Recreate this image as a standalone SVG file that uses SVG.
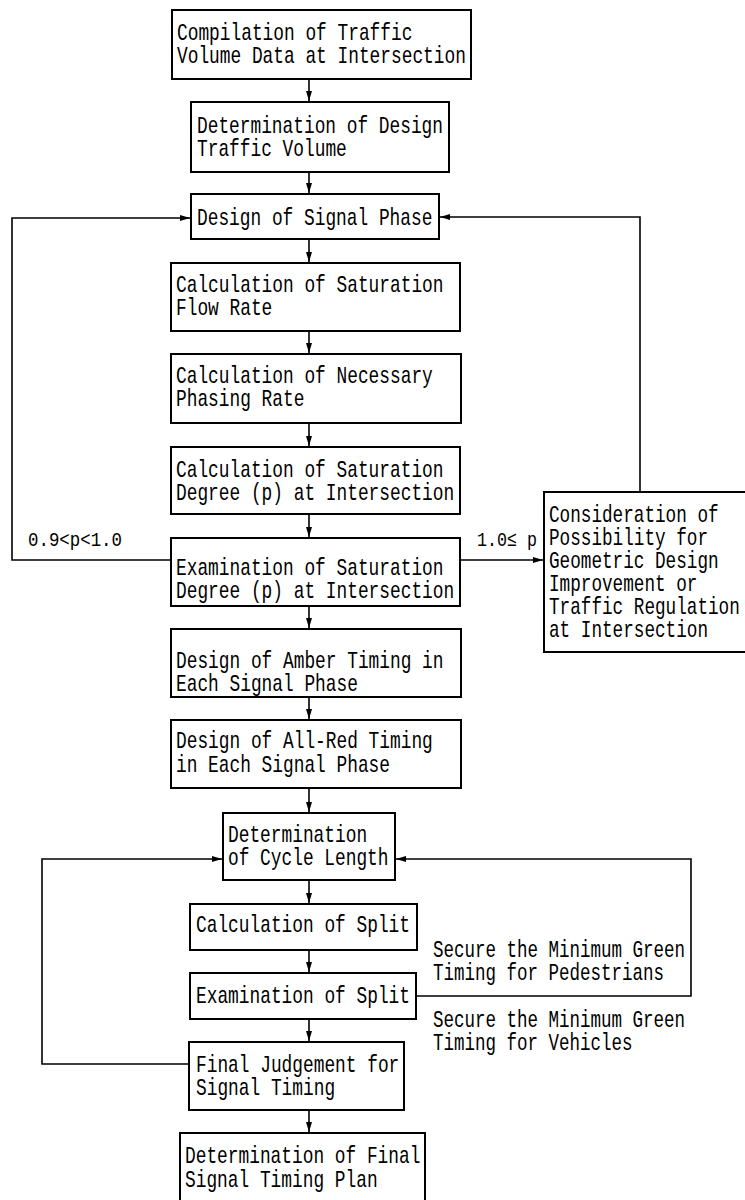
<svg xmlns="http://www.w3.org/2000/svg" width="745" height="1200" viewBox="0 0 745 1200">
<style>
.box{fill:#fff;stroke:#000;stroke-width:2}
.t{font-family:"Liberation Mono","DejaVu Sans Mono",monospace;font-size:24px;fill:#000}
.s{font-family:"Liberation Mono","DejaVu Sans Mono",monospace;font-size:21px;fill:#000}
.c{fill:none;stroke:#000;stroke-width:1.6}
</style>
<defs>
<marker id="ah" viewBox="0 0 10 6" markerWidth="10" markerHeight="6" refX="10" refY="3" orient="auto" markerUnits="userSpaceOnUse">
<path d="M0,0 L10,3 L0,6 z" fill="#000"/>
</marker>
</defs>
<rect width="745" height="1200" fill="#fff"/>
<g id="connectors">
<line class="c" x1="309" y1="80" x2="309" y2="101" marker-end="url(#ah)"/>
<line class="c" x1="309" y1="173" x2="309" y2="193" marker-end="url(#ah)"/>
<line class="c" x1="309" y1="240" x2="309" y2="262" marker-end="url(#ah)"/>
<line class="c" x1="309" y1="332" x2="309" y2="353" marker-end="url(#ah)"/>
<line class="c" x1="309" y1="424" x2="309" y2="446" marker-end="url(#ah)"/>
<line class="c" x1="309" y1="515" x2="309" y2="537" marker-end="url(#ah)"/>
<line class="c" x1="309" y1="607" x2="309" y2="628" marker-end="url(#ah)"/>
<line class="c" x1="309" y1="698" x2="309" y2="719" marker-end="url(#ah)"/>
<line class="c" x1="309" y1="789" x2="309" y2="812" marker-end="url(#ah)"/>
<line class="c" x1="309" y1="881" x2="309" y2="903" marker-end="url(#ah)"/>
<line class="c" x1="309" y1="951" x2="309" y2="972" marker-end="url(#ah)"/>
<line class="c" x1="309" y1="1020" x2="309" y2="1041" marker-end="url(#ah)"/>
<line class="c" x1="309" y1="1111" x2="309" y2="1132" marker-end="url(#ah)"/>
<path class="c" d="M170,560 H12 V218 H190" marker-end="url(#ah)"/>
<path class="c" d="M461,560 H543" marker-end="url(#ah)"/>
<path class="c" d="M640,491 V217 H440" marker-end="url(#ah)"/>
<path class="c" d="M188,1064 H42 V859 H222" marker-end="url(#ah)"/>
<path class="c" d="M417,996 H691 V859 H396" marker-end="url(#ah)"/>
<text class="s" x="28" y="546" textLength="94" lengthAdjust="spacingAndGlyphs">0.9&lt;p&lt;1.0</text>
<text class="s" x="477" y="546" textLength="60" lengthAdjust="spacingAndGlyphs">1.0≤ p</text>
<text class="t" x="433" y="957" textLength="252" lengthAdjust="spacingAndGlyphs">Secure the Minimum Green</text>
<text class="t" x="433" y="980" textLength="231" lengthAdjust="spacingAndGlyphs">Timing for Pedestrians</text>
<text class="t" x="433" y="1027" textLength="252" lengthAdjust="spacingAndGlyphs">Secure the Minimum Green</text>
<text class="t" x="433" y="1050" textLength="199.5" lengthAdjust="spacingAndGlyphs">Timing for Vehicles</text>
</g>
<g id="n1">
<rect class="box" x="172" y="10" width="299" height="69"/>
<text class="t" x="177" y="40" textLength="235.4" lengthAdjust="spacingAndGlyphs">Compilation of Traffic</text>
<text class="t" x="177" y="63" textLength="288.9" lengthAdjust="spacingAndGlyphs">Volume Data at Intersection</text>
</g>
<g id="n2">
<rect class="box" x="191" y="102" width="258" height="70"/>
<text class="t" x="197" y="133" textLength="246" lengthAdjust="spacingAndGlyphs">Determination of Design</text>
<text class="t" x="197" y="156" textLength="149.8" lengthAdjust="spacingAndGlyphs">Traffic Volume</text>
</g>
<g id="n3">
<rect class="box" x="191" y="194" width="248" height="45"/>
<text class="t" x="197" y="225" textLength="235.4" lengthAdjust="spacingAndGlyphs">Design of Signal Phase</text>
</g>
<g id="n4">
<rect class="box" x="171" y="263" width="289" height="68"/>
<text class="t" x="176" y="292" textLength="267.5" lengthAdjust="spacingAndGlyphs">Calculation of Saturation</text>
<text class="t" x="176" y="315" textLength="96.3" lengthAdjust="spacingAndGlyphs">Flow Rate</text>
</g>
<g id="n5">
<rect class="box" x="171" y="354" width="290" height="69"/>
<text class="t" x="176" y="383" textLength="256.8" lengthAdjust="spacingAndGlyphs">Calculation of Necessary</text>
<text class="t" x="176" y="406" textLength="128.4" lengthAdjust="spacingAndGlyphs">Phasing Rate</text>
</g>
<g id="n6">
<rect class="box" x="171" y="447" width="289" height="67"/>
<text class="t" x="176" y="477" textLength="267.5" lengthAdjust="spacingAndGlyphs">Calculation of Saturation</text>
<text class="t" x="176" y="500" textLength="278.2" lengthAdjust="spacingAndGlyphs">Degree (p) at Intersection</text>
</g>
<g id="n7">
<rect class="box" x="171" y="538" width="289" height="68"/>
<text class="t" x="176" y="575" textLength="267.5" lengthAdjust="spacingAndGlyphs">Examination of Saturation</text>
<text class="t" x="176" y="598" textLength="278.2" lengthAdjust="spacingAndGlyphs">Degree (p) at Intersection</text>
</g>
<g id="n8">
<rect class="box" x="171" y="629" width="290" height="68"/>
<text class="t" x="176" y="668" textLength="267.5" lengthAdjust="spacingAndGlyphs">Design of Amber Timing in</text>
<text class="t" x="176" y="691" textLength="181.9" lengthAdjust="spacingAndGlyphs">Each Signal Phase</text>
</g>
<g id="n9">
<rect class="box" x="171" y="720" width="290" height="68"/>
<text class="t" x="176" y="748" textLength="256.8" lengthAdjust="spacingAndGlyphs">Design of All-Red Timing</text>
<text class="t" x="176" y="772" textLength="214" lengthAdjust="spacingAndGlyphs">in Each Signal Phase</text>
</g>
<g id="n10">
<rect class="box" x="223" y="813" width="172" height="67"/>
<text class="t" x="228" y="842" textLength="139.1" lengthAdjust="spacingAndGlyphs">Determination</text>
<text class="t" x="228" y="865" textLength="160.5" lengthAdjust="spacingAndGlyphs">of Cycle Length</text>
</g>
<g id="n11">
<rect class="box" x="190" y="904" width="227" height="46"/>
<text class="t" x="196" y="932" textLength="214" lengthAdjust="spacingAndGlyphs">Calculation of Split</text>
</g>
<g id="n12">
<rect class="box" x="190" y="973" width="226" height="46"/>
<text class="t" x="196" y="1003" textLength="214" lengthAdjust="spacingAndGlyphs">Examination of Split</text>
</g>
<g id="n13">
<rect class="box" x="189" y="1042" width="215" height="68"/>
<text class="t" x="196" y="1072" textLength="203.3" lengthAdjust="spacingAndGlyphs">Final Judgement for</text>
<text class="t" x="196" y="1095" textLength="139.1" lengthAdjust="spacingAndGlyphs">Signal Timing</text>
</g>
<g id="n14">
<rect class="box" x="180" y="1133" width="245" height="68"/>
<text class="t" x="185" y="1163" textLength="235.4" lengthAdjust="spacingAndGlyphs">Determination of Final</text>
<text class="t" x="185" y="1187" textLength="192.6" lengthAdjust="spacingAndGlyphs">Signal Timing Plan</text>
</g>
<g id="n15">
<rect class="box" x="544" y="492" width="204" height="160"/>
<text class="t" x="549" y="522" textLength="169.6" lengthAdjust="spacingAndGlyphs">Consideration of</text>
<text class="t" x="549" y="545" textLength="159" lengthAdjust="spacingAndGlyphs">Possibility for</text>
<text class="t" x="549" y="568" textLength="169.6" lengthAdjust="spacingAndGlyphs">Geometric Design</text>
<text class="t" x="549" y="591" textLength="148.4" lengthAdjust="spacingAndGlyphs">Improvement or</text>
<text class="t" x="549" y="614" textLength="190.8" lengthAdjust="spacingAndGlyphs">Traffic Regulation</text>
<text class="t" x="549" y="637" textLength="159" lengthAdjust="spacingAndGlyphs">at Intersection</text>
</g>
</svg>
